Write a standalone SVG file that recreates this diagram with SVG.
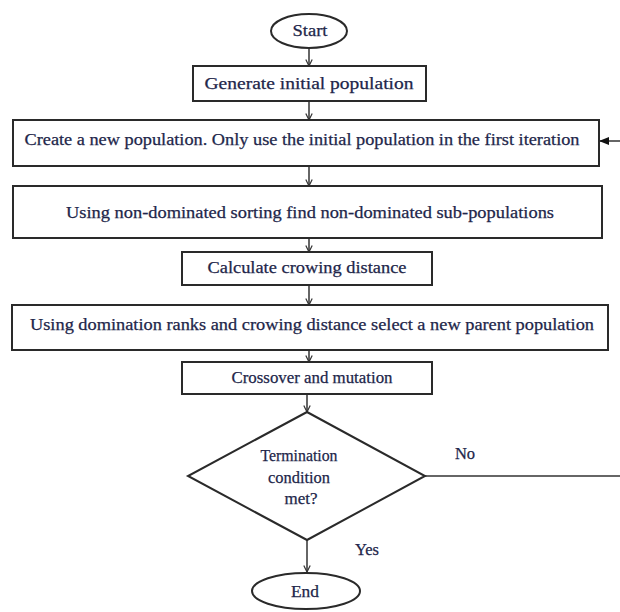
<svg xmlns="http://www.w3.org/2000/svg" width="620" height="612" viewBox="0 0 620 612">
<style>
.box{fill:#fff;stroke:#2a2a2a;stroke-width:2}
.t{font-family:"Liberation Serif","Times New Roman",serif;font-size:16.5px;fill:#22264a;text-anchor:middle;stroke:#22264a;stroke-width:0.25}
.c{fill:none;stroke:#333;stroke-width:1.5}
</style>
<defs>
<marker id="av" viewBox="0 0 10 10" refX="9" refY="5" markerWidth="8" markerHeight="8" markerUnits="userSpaceOnUse" orient="auto">
<path d="M1,1 L9,5 L1,9" fill="none" stroke="#333" stroke-width="1.5"/>
</marker>
<marker id="af" viewBox="0 0 10 10" refX="9" refY="5" markerWidth="10" markerHeight="10" markerUnits="userSpaceOnUse" orient="auto">
<path d="M0,1 L10,5 L0,9 Z" fill="#111"/>
</marker>
</defs>
<g id="connectors">
<line class="c" x1="309" y1="48" x2="309" y2="66" marker-end="url(#av)"/>
<line class="c" x1="309" y1="101" x2="309" y2="120" marker-end="url(#av)"/>
<line class="c" x1="309" y1="166" x2="309" y2="186" marker-end="url(#av)"/>
<line class="c" x1="309" y1="238" x2="309" y2="252" marker-end="url(#av)"/>
<line class="c" x1="309" y1="285" x2="309" y2="305" marker-end="url(#av)"/>
<line class="c" x1="309" y1="350" x2="309" y2="362" marker-end="url(#av)"/>
<line class="c" x1="307" y1="394" x2="307" y2="412" marker-end="url(#av)"/>
<line class="c" x1="307" y1="540" x2="307" y2="572" marker-end="url(#av)"/>
<line class="c" x1="425" y1="476" x2="620" y2="476"/>
<line class="c" x1="620" y1="141" x2="600" y2="141" marker-end="url(#af)"/>
<text class="t" x="465" y="459">No</text>
<text class="t" x="367" y="555">Yes</text>
</g>
<g id="start">
<ellipse class="box" cx="309" cy="31" rx="38" ry="17"/>
<text class="t" x="310" y="36" textLength="35" lengthAdjust="spacingAndGlyphs">Start</text>
</g>
<g id="generate">
<rect class="box" x="193" y="66" width="233" height="35"/>
<text class="t" x="309" y="89" textLength="209" lengthAdjust="spacingAndGlyphs">Generate initial population</text>
</g>
<g id="create">
<rect class="box" x="13" y="120" width="586" height="46"/>
<text class="t" x="302" y="145" textLength="555" lengthAdjust="spacingAndGlyphs">Create a new population. Only use the initial population in the first iteration</text>
</g>
<g id="sorting">
<rect class="box" x="13" y="186" width="589" height="52"/>
<text class="t" x="310" y="218" textLength="488" lengthAdjust="spacingAndGlyphs">Using non-dominated sorting find non-dominated sub-populations</text>
</g>
<g id="crowding">
<rect class="box" x="182" y="252" width="250" height="33"/>
<text class="t" x="307" y="273" textLength="199" lengthAdjust="spacingAndGlyphs">Calculate crowing distance</text>
</g>
<g id="select">
<rect class="box" x="12" y="305" width="596" height="45"/>
<text class="t" x="312" y="330" textLength="564" lengthAdjust="spacingAndGlyphs">Using domination ranks and crowing distance select a new parent population</text>
</g>
<g id="crossover">
<rect class="box" x="182" y="362" width="250" height="32"/>
<text class="t" x="312" y="383" textLength="161" lengthAdjust="spacingAndGlyphs">Crossover and mutation</text>
</g>
<g id="decision">
<polygon class="box" points="307,412 425,476 307,540 188,476"/>
<text class="t" x="299" y="461" textLength="77" lengthAdjust="spacingAndGlyphs">Termination</text>
<text class="t" x="299" y="483" textLength="62" lengthAdjust="spacingAndGlyphs">condition</text>
<text class="t" x="301" y="504" textLength="33" lengthAdjust="spacingAndGlyphs">met?</text>
</g>
<g id="end">
<ellipse class="box" cx="306" cy="591" rx="54" ry="18"/>
<text class="t" x="305" y="597" textLength="28" lengthAdjust="spacingAndGlyphs">End</text>
</g>
</svg>
